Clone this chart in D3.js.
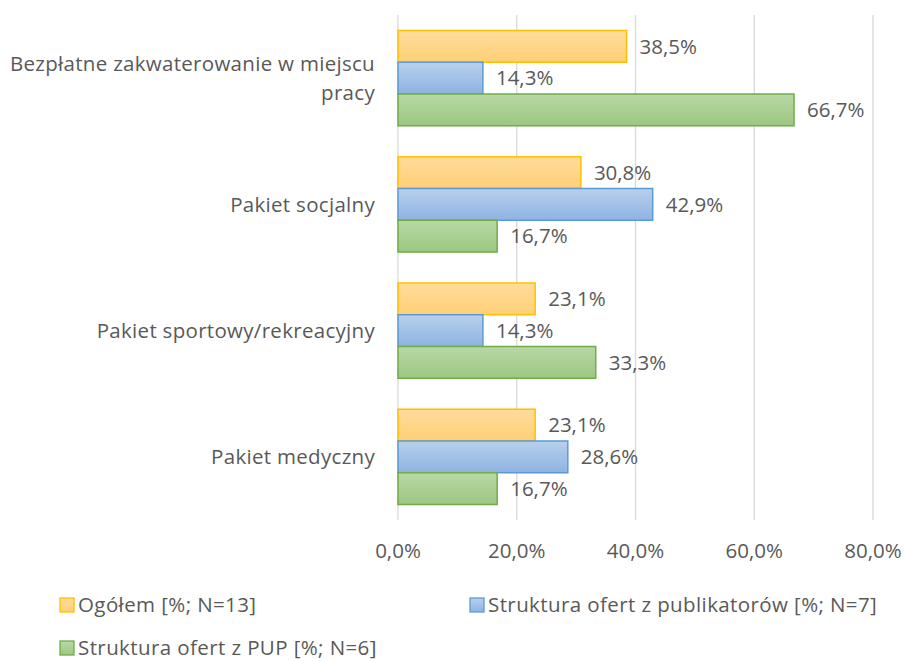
<!DOCTYPE html>
<html>
<head>
<meta charset="utf-8">
<script src="https://cdn.jsdelivr.net/npm/d3@7"></script>
<style>
  body { margin: 0; background: #fff; }
  text { font-family: "Open Sans", "Noto Sans", sans-serif; fill: #595959; }
</style>
</head>
<body>
<div id="chart"></div>
<script>
// Data
const categories = [
  ['Bezpłatne zakwaterowanie w miejscu', 'pracy'],
  ['Pakiet socjalny'],
  ['Pakiet sportowy/rekreacyjny'],
  ['Pakiet medyczny']
];
const seriesNames = ['Ogółem [%; N=13]', 'Struktura ofert z publikatorów [%; N=7]', 'Struktura ofert z PUP [%; N=6]'];
const ogolem = [38.5, 30.8, 23.1, 23.1];
const publikatory = [14.3, 42.9, 14.3, 28.6];
const pup = [66.7, 16.7, 33.3, 16.7];
const ticks = [0, 20, 40, 60, 80];

const series = [ogolem, publikatory, pup];
const colors = [
  { top: '#ffdc9c', bottom: '#fecf76', stroke: '#ffc000' },
  { top: '#b8d0ec', bottom: '#8eb3e2', stroke: '#5b9bd5' },
  { top: '#b8d8a6', bottom: '#9cc781', stroke: '#70ad47' }
];

const width = 905, height = 661;
const svg = d3.select('#chart').append('svg')
  .attr('width', width).attr('height', height);

const x = d3.scaleLinear().domain([0, 80]).range([398, 873]);
const y = d3.scaleBand().domain(d3.range(categories.length)).range([15, 520]).paddingInner(0.245).paddingOuter(0.1225);
const yInner = d3.scaleBand().domain(d3.range(series.length)).range([0, y.bandwidth()]);

const defs = svg.append('defs');
colors.forEach((c, i) => {
  const g = defs.append('linearGradient').attr('id', 'grad' + i)
    .attr('x1', 0).attr('y1', 0).attr('x2', 0).attr('y2', 1);
  g.append('stop').attr('offset', '0%').attr('stop-color', c.top);
  g.append('stop').attr('offset', '100%').attr('stop-color', c.bottom);
});

// Gridlines
svg.append('g').selectAll('line')
  .data(ticks)
  .join('line')
    .attr('x1', d => x(d)).attr('x2', d => x(d))
    .attr('y1', 15).attr('y2', 520)
    .attr('stroke', '#d9d9d9').attr('stroke-width', 1.3);

// Tick labels
svg.append('g').selectAll('text')
  .data(ticks)
  .join('text')
    .attr('x', d => x(d)).attr('y', 558)
    .attr('text-anchor', 'middle')
    .attr('font-size', 20.5)
    .text(d => d.toFixed(1).replace('.', ',') + '%');

// Bars
const groups = svg.append('g').selectAll('g')
  .data(categories.map((c, i) => i))
  .join('g')
    .attr('transform', i => `translate(0,${y(i)})`);

groups.selectAll('rect')
  .data(i => series.map((s, j) => ({ j, v: s[i] })))
  .join('rect')
    .attr('x', x(0))
    .attr('y', d => yInner(d.j))
    .attr('width', d => x(d.v) - x(0))
    .attr('height', yInner.bandwidth())
    .attr('fill', d => `url(#grad${d.j})`)
    .attr('stroke', d => colors[d.j].stroke)
    .attr('stroke-width', 1.5);

groups.selectAll('text.val')
  .data(i => series.map((s, j) => ({ j, v: s[i] })))
  .join('text')
    .attr('class', 'val')
    .attr('x', d => x(d.v) + 13)
    .attr('y', d => yInner(d.j) + yInner.bandwidth() / 2)
    .attr('dy', '0.35em')
    .attr('font-size', 20.5)
    .text(d => d.v.toFixed(1).replace('.', ',') + '%');

// Category labels
svg.append('g').selectAll('text')
  .data(categories)
  .join('text')
    .attr('text-anchor', 'end')
    .attr('font-size', 20.5)
    .attr('letter-spacing', 0.3)
    .attr('x', 375)
    .attr('y', (d, i) => y(i) + y.bandwidth() / 2 - (d.length - 1) * 14)
    .selectAll('tspan')
    .data(d => d)
    .join('tspan')
      .attr('x', 375)
      .attr('dy', (d, k) => k === 0 ? '0.35em' : 29)
      .text(d => d);

// Legend
const legendPos = [[60, 605], [470, 605], [60, 648]];
const legend = svg.append('g').selectAll('g')
  .data(seriesNames)
  .join('g')
    .attr('transform', (d, i) => `translate(${legendPos[i][0]},${legendPos[i][1]})`);
legend.append('rect')
  .attr('x', 0).attr('y', -7).attr('width', 14).attr('height', 14)
  .attr('fill', (d, i) => `url(#grad${i})`)
  .attr('stroke', (d, i) => colors[i].stroke).attr('stroke-width', 1.3);
legend.append('text')
  .attr('x', 18).attr('y', 0).attr('dy', '0.35em')
  .attr('font-size', 20.5)
  .attr('letter-spacing', 0.4)
  .text(d => d);
</script>
</body>
</html>
